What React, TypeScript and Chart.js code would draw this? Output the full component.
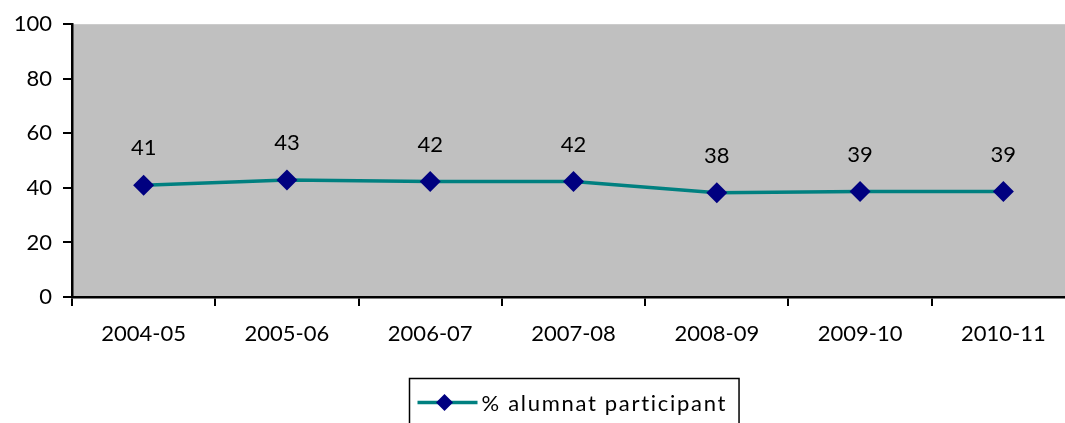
import React, { useEffect, useRef } from "react";
import { Chart, registerables } from "chart.js";

Chart.register(...registerables);

const categories = ["2004-05", "2005-06", "2006-07", "2007-08", "2008-09", "2009-10", "2010-11"];
const participation = [41.0, 42.9, 42.3, 42.3, 38.2, 38.7, 38.7];
const seriesLabel = "% alumnat participant";
const yTicks = [0, 20, 40, 60, 80, 100];

const FONT = "Lato, 'Open Sans', sans-serif";
const LINE_COLOR = "#008080";
const POINT_COLOR = "#000080";
const PLOT_BG = "#c0c0c0";

const plotBackground = {
  id: "plotBackground",
  beforeDraw(chart: any) {
    const { ctx, chartArea } = chart;
    ctx.save();
    ctx.fillStyle = PLOT_BG;
    ctx.fillRect(chartArea.left, chartArea.top, chartArea.right - chartArea.left, chartArea.bottom - chartArea.top);
    ctx.restore();
  },
};

const dataLabels = {
  id: "dataLabels",
  afterDatasetsDraw(chart: any) {
    const { ctx } = chart;
    const meta = chart.getDatasetMeta(0);
    const values = chart.data.datasets[0].data;
    ctx.save();
    ctx.font = `22px ${FONT}`;
    ctx.fillStyle = "#000";
    ctx.textAlign = "center";
    ctx.textBaseline = "middle";
    meta.data.forEach((pt: any, i: number) => {
      ctx.fillText(String(Math.round(values[i])), pt.x, pt.y - 37);
    });
    ctx.restore();
  },
};

const boxedLegend = {
  id: "boxedLegend",
  afterDraw(chart: any) {
    const { ctx, chartArea } = chart;
    ctx.save();
    ctx.font = `22px ${FONT}`;
    (ctx as any).letterSpacing = "1.7px";
    const textW = ctx.measureText(seriesLabel).width;
    const boxW = 8 + 60 + 4 + textW + 12;
    const cx = (chartArea.left + chartArea.right) / 2;
    const left = Math.round(cx - boxW / 2) + 0.5;
    const top = 378.5;
    ctx.strokeStyle = "#000";
    ctx.lineWidth = 1.5;
    ctx.strokeRect(left, top, boxW, 70);
    const midY = top + 24;
    ctx.strokeStyle = LINE_COLOR;
    ctx.lineWidth = 3.5;
    ctx.beginPath();
    ctx.moveTo(left + 8, midY);
    ctx.lineTo(left + 68, midY);
    ctx.stroke();
    const dx = left + 35;
    const r = 8.5;
    ctx.fillStyle = POINT_COLOR;
    ctx.beginPath();
    ctx.moveTo(dx, midY - r);
    ctx.lineTo(dx + r, midY);
    ctx.lineTo(dx, midY + r);
    ctx.lineTo(dx - r, midY);
    ctx.closePath();
    ctx.fill();
    ctx.fillStyle = "#000";
    ctx.textAlign = "left";
    ctx.textBaseline = "middle";
    ctx.fillText(seriesLabel, left + 72, midY + 1);
    ctx.restore();
  },
};

export default function App() {
  const ref = useRef<HTMLCanvasElement | null>(null);

  useEffect(() => {
    document.body.style.margin = "0";
    document.body.style.overflow = "hidden";
    const canvas = ref.current;
    if (!canvas) return;
    const chart = new Chart(canvas, {
      type: "line",
      data: {
        labels: categories,
        datasets: [
          {
            label: seriesLabel,
            data: participation,
            borderColor: LINE_COLOR,
            borderWidth: 3.5,
            tension: 0,
            pointStyle: "rectRot",
            pointRadius: 10.5,
            pointBackgroundColor: POINT_COLOR,
            pointBorderColor: POINT_COLOR,
            pointBorderWidth: 0,
            fill: false,
          },
        ],
      },
      options: {
        animation: false,
        responsive: false,
        maintainAspectRatio: false,
        layout: { autoPadding: false, padding: { top: 22, left: 0, right: 0, bottom: 0 } },
        plugins: {
          legend: { display: false },
          tooltip: { enabled: false },
        },
        scales: {
          x: {
            type: "category",
            offset: true,
            grid: {
              display: true,
              drawOnChartArea: false,
              offset: true,
              drawTicks: true,
              tickLength: 9,
              color: "#000",
              lineWidth: 2,
            },
            border: { display: true, color: "#000", width: 2.5 },
            ticks: {
              color: "#000",
              font: { family: FONT, size: 22 },
              padding: 15,
              maxRotation: 0,
              autoSkip: false,
            },
            afterFit(scale: any) {
              scale.height = 126;
              scale.paddingLeft = 0;
              scale.paddingRight = 0;
            },
          },
          y: {
            min: 0,
            max: 100,
            afterBuildTicks(scale: any) {
              scale.ticks = yTicks.map((v) => ({ value: v }));
            },
            grid: {
              display: true,
              drawOnChartArea: false,
              drawTicks: true,
              tickLength: 9,
              color: "#000",
              lineWidth: 2,
            },
            border: { display: true, color: "#000", width: 2.5 },
            ticks: {
              color: "#000",
              font: { family: FONT, size: 22 },
              padding: 11,
            },
            afterFit(scale: any) {
              scale.width = 72;
            },
          },
        },
      },
      plugins: [plotBackground, dataLabels, boxedLegend],
    });
    return () => chart.destroy();
  }, []);

  return (
    <div style={{ position: "fixed", left: 0, top: 0, width: 1075, height: 423 }}>
      <canvas ref={ref} width={1075} height={423} style={{ display: "block" }} />
    </div>
  );
}
